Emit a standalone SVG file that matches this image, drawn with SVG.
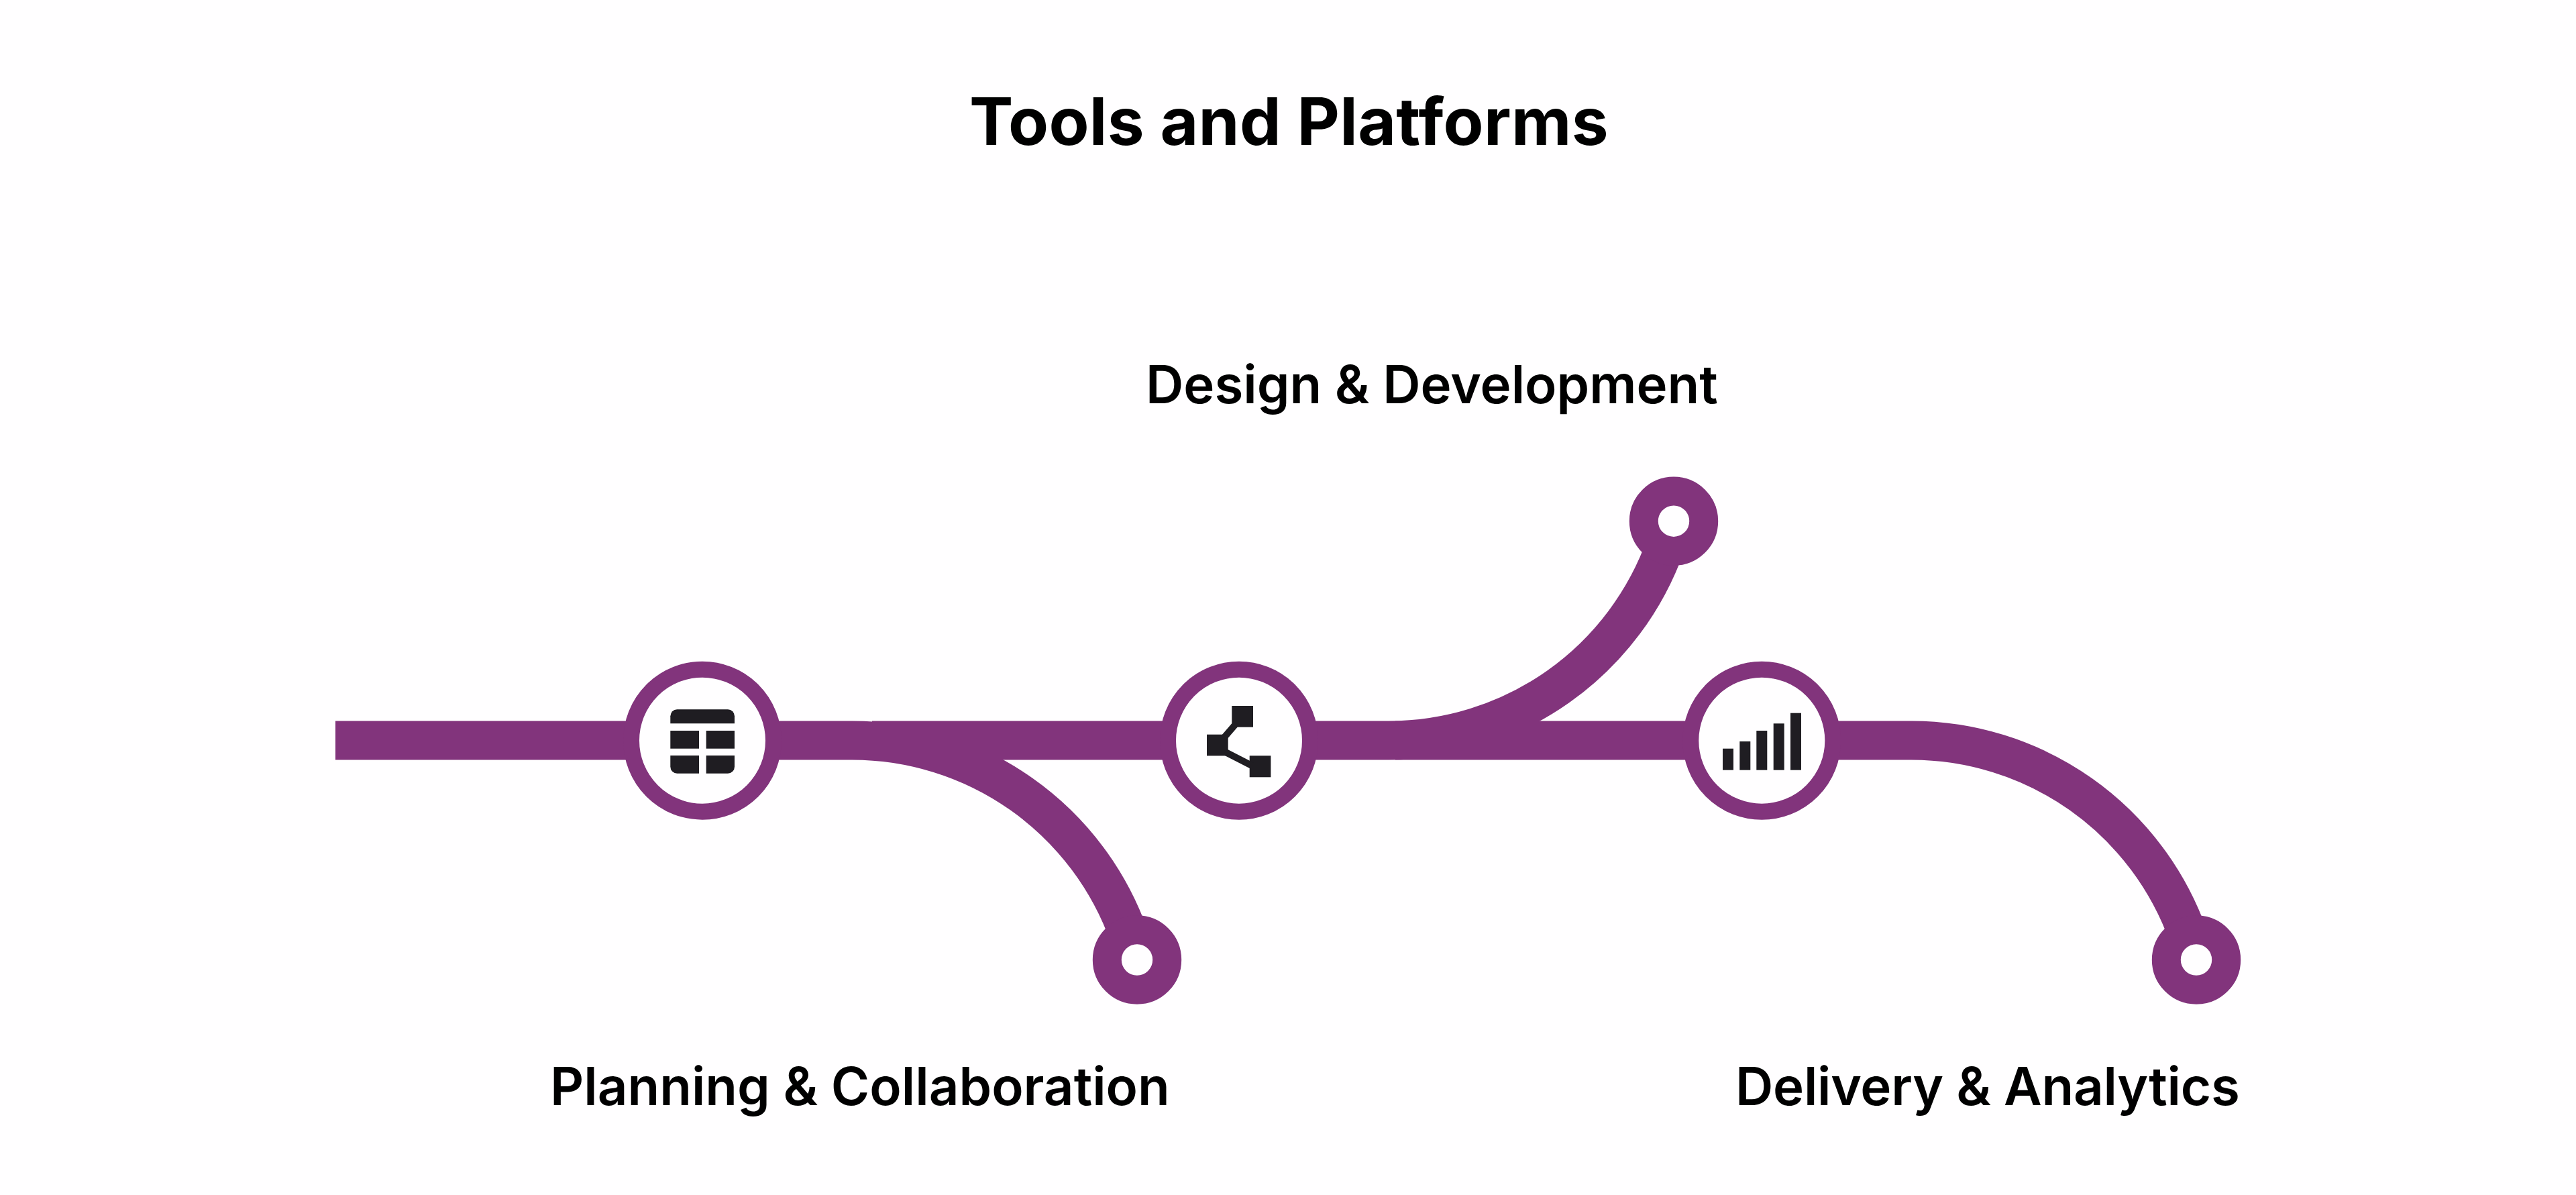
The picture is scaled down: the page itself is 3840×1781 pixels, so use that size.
<svg xmlns="http://www.w3.org/2000/svg" width="3840" height="1781" viewBox="0 0 3840 1781">
<style>
.rail{fill:none;stroke:#82347c;stroke-width:58}
.ring{fill:#fffeff;stroke:#82347c;stroke-width:24}
.end{fill:#fffeff;stroke:#82347c;stroke-width:43}
.ico{fill:#1f1d22}
.lnk{stroke:#1f1d22;stroke-width:10;fill:none}
text{font-family:Inter,"Liberation Sans",sans-serif;fill:#000;font-variant-ligatures:none;font-feature-settings:"calt" 0,"liga" 0}
.title{font-size:98px;font-weight:700;letter-spacing:.3px}
.lab{font-size:78px;font-weight:600}
</style>
<rect width="3840" height="1781" fill="#fffeff"/>
<g id="connectors">
<path class="rail" d="M500 1103.500H1270A438 438 0 0 1 1683 1395"/>
<path class="rail" d="M1300 1103.500H2070A438 438 0 0 0 2483 812"/>
<path class="rail" d="M2080 1103.500H2849A438 438 0 0 1 3262 1395"/>
</g>
<g id="node-planning">
<circle class="ring" cx="1047" cy="1103.700" r="106"/>
<path class="ico" d="M1009.300 1057.300H1085A10 10 0 0 1 1095 1067.300V1078.300H999.300V1067.300A10 10 0 0 1 1009.300 1057.300Z"/>
<rect class="ico" x="999.300" y="1089" width="42.700" height="26.700"/>
<rect class="ico" x="1052.700" y="1089" width="42.300" height="26.700"/>
<path class="ico" d="M999.300 1126H1042V1152.700H1009.300A10 10 0 0 1 999.300 1142.700Z"/>
<path class="ico" d="M1052.700 1126H1095V1142.700A10 10 0 0 1 1085 1152.700H1052.700Z"/>
</g>
<g id="node-design">
<circle class="ring" cx="1847" cy="1103.700" r="106"/>
<rect class="ico" x="1836.300" y="1052" width="31.700" height="31.700"/>
<rect class="ico" x="1799" y="1094.700" width="31.700" height="31.700"/>
<rect class="ico" x="1862.700" y="1126.300" width="31.700" height="32"/>
<path class="lnk" d="M1824 1100L1843 1078M1826 1120.500L1866 1141"/>
</g>
<g id="node-delivery">
<circle class="ring" cx="2626.300" cy="1103.700" r="106"/>
<rect class="ico" x="2568" y="1115.700" width="16" height="32"/>
<rect class="ico" x="2593.300" y="1105" width="16" height="42.700"/>
<rect class="ico" x="2618.300" y="1089" width="16" height="58.700"/>
<rect class="ico" x="2643.700" y="1078.300" width="16" height="69.400"/>
<rect class="ico" x="2669" y="1062.700" width="16" height="85"/>
</g>
<g id="end-planning"><circle class="end" cx="1695" cy="1430.500" r="44.700"/></g>
<g id="end-design"><circle class="end" cx="2495" cy="776.700" r="44.700"/></g>
<g id="end-delivery"><circle class="end" cx="3274" cy="1430.500" r="44.700"/></g>
<text class="title" x="1445" y="216">Tools and Platforms</text>
<text class="lab" x="1708" y="600.700">Design &amp; Development</text>
<text class="lab" x="820" y="1646.700">Planning &amp; Collaboration</text>
<text class="lab" x="2587" y="1646.700" letter-spacing="-0.25">Delivery &amp; Analytics</text>
</svg>
